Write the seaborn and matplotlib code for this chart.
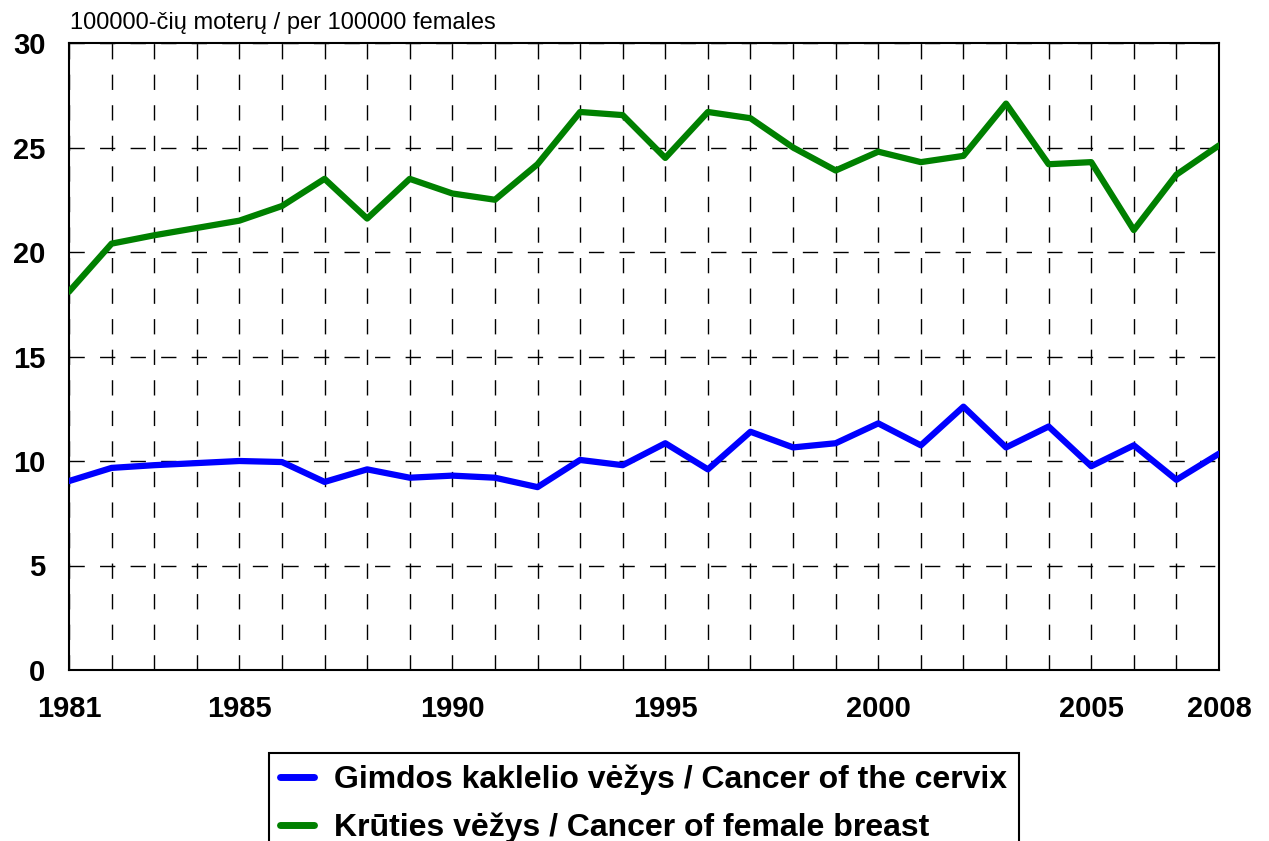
import matplotlib
matplotlib.use("Agg")
import matplotlib.pyplot as plt
import seaborn as sns
import pandas as pd

years = list(range(1981, 2009))
cervix = [9.04, 9.67, 9.8, 9.9, 10.0, 9.95, 9.0, 9.6, 9.2, 9.3, 9.2, 8.75, 10.05, 9.8,
          10.85, 9.6, 11.4, 10.65, 10.85, 11.8, 10.75, 12.6, 10.65, 11.65, 9.75, 10.75, 9.1, 10.35]
breast = [18.1, 20.4, 20.8, 21.15, 21.5, 22.2, 23.5, 21.6, 23.5, 22.8, 22.5, 24.2, 26.7, 26.55,
          24.5, 26.7, 26.4, 25.0, 23.9, 24.8, 24.3, 24.6, 27.1, 24.2, 24.3, 21.05, 23.7, 25.1]
series_names = ["Gimdos kaklelio vėžys / Cancer of the cervix",
                "Krūties vėžys / Cancer of female breast"]
colors = ["#0000FF", "#008000"]
xtick_labels = [1981, 1985, 1990, 1995, 2000, 2005, 2008]
yticks = [0, 5, 10, 15, 20, 25, 30]
ylabel_text = "100000-čių moterų / per 100000 females"

df = pd.DataFrame({
    "year": years * 2,
    "value": cervix + breast,
    "series": [series_names[0]] * len(years) + [series_names[1]] * len(years),
})

sns.set_theme(style="white")
plt.rcParams["font.family"] = ["Liberation Sans", "DejaVu Sans"]
plt.rcParams["text.color"] = "black"
plt.rcParams["xtick.color"] = "black"
plt.rcParams["ytick.color"] = "black"

fig = plt.figure(figsize=(12.69, 8.41), dpi=100)
ax = fig.add_axes([69 / 1269, 1 - 670 / 841, (1219 - 69) / 1269, (670 - 43) / 841])

sns.lineplot(data=df, x="year", y="value", hue="series", palette=colors,
             linewidth=4.5, ax=ax, legend=False, zorder=3)

ax.set_xlim(1981, 2008)
ax.set_ylim(0, 30)
ax.set_xticks(years)
ax.set_xticklabels([str(y) if y in xtick_labels else "" for y in years])
ax.set_yticks(yticks)
ax.set_yticklabels([str(v) for v in yticks])
ax.tick_params(axis="both", length=0, labelsize=21, labelcolor="black")
ax.tick_params(axis="x", pad=18)
ax.tick_params(axis="y", pad=17)
for lab in ax.get_xticklabels() + ax.get_yticklabels():
    lab.set_fontweight("bold")
ax.set_xlabel("")
ax.set_ylabel("")

ax.grid(True, axis="both", color="black", linewidth=1.0, linestyle=(0, (11, 11)), zorder=1)
for s in ax.spines.values():
    s.set_visible(True)
    s.set_color("black")
    s.set_linewidth(1.5)

fig.text(70 / 1269, 1 - 23 / 841, ylabel_text, fontsize=17, va="center", ha="left",
         color="black")

handles = [plt.Line2D([], [], color=c, linewidth=5, solid_capstyle="round") for c in colors]
leg = fig.legend(handles, series_names, loc="upper left",
                 bbox_to_anchor=(269 / 1269, 1 - 753 / 841),
                 prop={"weight": "bold", "size": 23}, frameon=True, fancybox=False,
                 handlelength=1.05, handletextpad=0.65, borderpad=0.35, labelspacing=0.55,
                 borderaxespad=0)
leg.get_frame().set_edgecolor("black")
leg.get_frame().set_linewidth(1.5)
leg.get_frame().set_alpha(1.0)
for t in leg.get_texts():
    t.set_color("black")

fig.savefig("out.png", dpi=100)
